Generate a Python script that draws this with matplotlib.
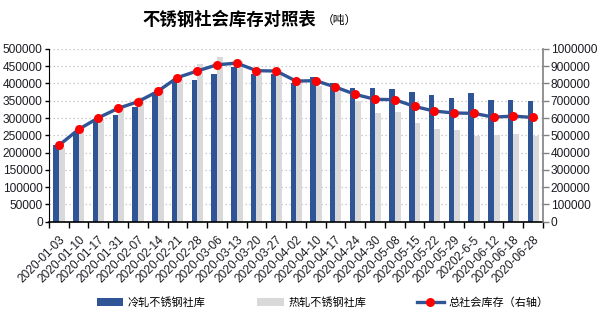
import matplotlib
matplotlib.use("Agg")
import matplotlib.pyplot as plt
import numpy as np
from matplotlib.lines import Line2D
from matplotlib.patches import Patch

plt.rcParams['font.family'] = ['Liberation Sans', 'Noto Sans CJK SC', 'DejaVu Sans']

# 周度日期
dates = ['2020-01-03', '2020-01-10', '2020-01-17', '2020-01-31', '2020-02-07',
         '2020-02-14', '2020-02-21', '2020-02-28', '2020-03-06', '2020-03-13',
         '2020-03-20', '2020-03-27', '2020-04-02', '2020-04-10', '2020-04-17',
         '2020-04-24', '2020-04-30', '2020-05-08', '2020-05-15', '2020-05-22',
         '2020-05-29', '20202-6-5', '2020-06-12', '2020-06-18', '2020-06-28']

# 冷轧 / 热轧 社库（吨）
cold = [222000, 258000, 292000, 309000, 331000, 372000, 413000, 411000, 428000,
        449000, 428000, 428000, 401000, 420000, 401000, 388000, 388000, 385000,
        376000, 367000, 359000, 373000, 353000, 353000, 350000]
hot = [213000, 266000, 298000, 338000, 360000, 384000, 419000, 457000, 478000,
       466000, 432000, 440000, 406000, 394000, 377000, 348000, 315000, 318000,
       286000, 269000, 266000, 248000, 251000, 254000, 249000]
# 总社会库存（右轴）
total = [441000, 534000, 601000, 656000, 694000, 754000, 834000, 872000, 908000,
         918000, 874000, 872000, 814000, 816000, 779000, 737000, 708000, 706000,
         667000, 640000, 629000, 627000, 605000, 611000, 603000]

blue = '#2F5597'
grey = '#D9D9D9'
txt = '#1c1c24'

fig = plt.figure(figsize=(6.04, 3.24), dpi=100)
ax = fig.add_axes([0.081, 0.316, 0.818, 0.533])
ax2 = ax.twinx()

x = np.arange(len(dates))
ax.bar(x - 0.135, cold, width=0.28, color=blue, zorder=2)
ax.bar(x + 0.15, hot, width=0.30, color=grey, zorder=2)

ax2.plot(x, total, color=blue, lw=2.4, marker='o', markersize=6.5,
         markerfacecolor='red', markeredgecolor='red', markeredgewidth=0,
         zorder=3, solid_joinstyle='round')

ax.set_xlim(-0.5, len(dates) - 0.5)
ax.set_ylim(0, 500000)
ax.set_yticks(np.arange(0, 500001, 50000))
ax2.set_ylim(0, 1000000)
ax2.set_yticks(np.arange(0, 1000001, 100000))
ax.ticklabel_format(axis='y', style='plain', useOffset=False)
ax2.ticklabel_format(axis='y', style='plain', useOffset=False)

ax.grid(axis='y', linestyle=(0, (1.2, 2.0)), color='#c8c8c8', lw=0.9, zorder=0)
ax.set_axisbelow(True)

ax.set_xticks(x)
ax.set_xticklabels(dates, rotation=45, ha='right', rotation_mode='anchor',
                   fontsize=8.6, color=txt)
ax.set_xticks(np.arange(-0.5, len(dates), 1), minor=True)
ax.tick_params(axis='x', which='major', length=0, pad=9)
ax.tick_params(axis='x', which='minor', length=4, width=1, color='black', direction='out')
ax.tick_params(axis='y', length=3, width=1, pad=1.5, labelsize=8.6, labelcolor=txt)
ax2.tick_params(axis='y', length=4, width=1, color='#808080', pad=1.5,
                labelsize=8.6, labelcolor=txt)

for s in ['top', 'right']:
    ax.spines[s].set_visible(False)
for s in ['top', 'left', 'bottom']:
    ax2.spines[s].set_visible(False)
ax.spines['left'].set_color('black')
ax.spines['bottom'].set_color('black')
ax.spines['bottom'].set_linewidth(1.2)
ax2.spines['right'].set_color('#808080')
ax2.spines['right'].set_linewidth(1.2)

# 标题
fig.text(0.379, 0.938, '不锈钢社会库存对照表', ha='center', va='center',
         fontsize=12.5, fontweight='bold', family=['Noto Sans CJK SC'], color='black')
fig.text(0.532, 0.938, '（吨）', ha='left', va='center', fontsize=8.5,
         family=['Noto Sans CJK SC'], color='black')

handles = [
    Patch(facecolor=blue, edgecolor='none'),
    Patch(facecolor=grey, edgecolor='none'),
    Line2D([0], [0], color=blue, lw=2.4, marker='o', markersize=6.5,
           markerfacecolor='red', markeredgewidth=0),
]
labels = ['冷轧不锈钢社库', '热轧不锈钢社库', '总社会库存（右轴）']
fig.legend(handles, labels, loc='center', bbox_to_anchor=(0.534, 0.066), ncol=3,
           frameon=False, handlelength=2.4, handletextpad=0.4,
           columnspacing=4.6, prop={'family': ['Noto Sans CJK SC'], 'size': 8})

fig.savefig('out.png', dpi=100)
